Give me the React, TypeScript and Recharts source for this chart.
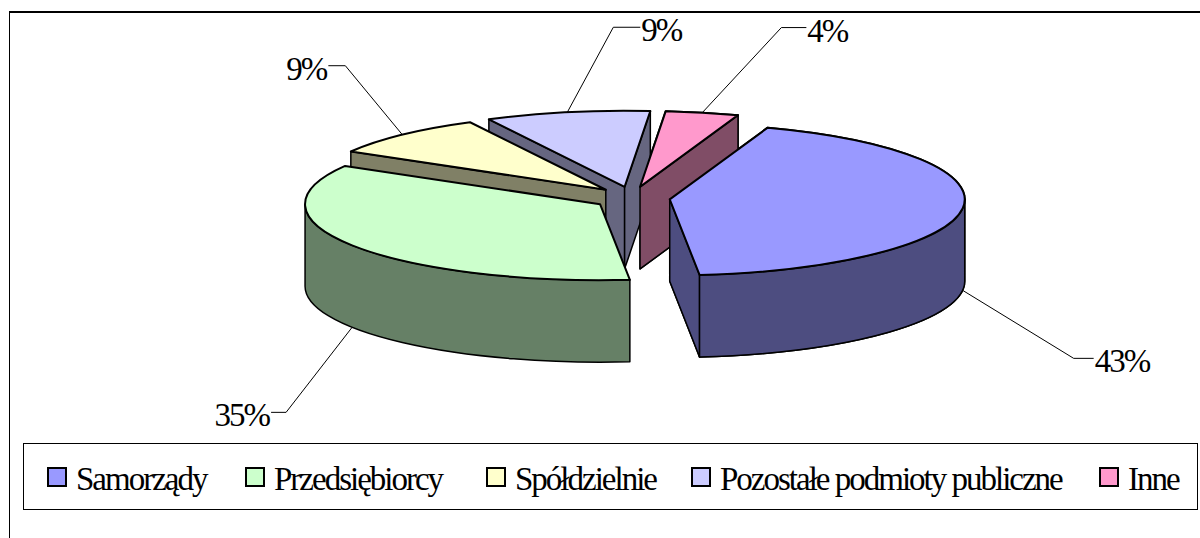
import React from 'react';
import { PieChart, Pie, Legend } from 'recharts';

const categories = ['Samorządy', 'Przedsiębiorcy', 'Spółdzielnie', 'Pozostałe podmioty publiczne', 'Inne'];
const shares = [43, 35, 9, 9, 4];
const colors = ['#9999FF', '#CCFFCC', '#FFFFCC', '#CCCCFF', '#FF99CC'];
const wallColors = ['#4D4D80', '#668066', '#808066', '#666680', '#804D66'];

// leader line bend relative to the rim, then horizontal stub
const leaders = [
  { dx: 111, dy: 68, stub: 20, onWall: true },
  { dx: -66, dy: 85, stub: -15, onWall: true },
  { dx: -57, dy: -69, stub: -17, onWall: false },
  { dx: 46, dy: -85, stub: 27, onWall: false },
  { dx: 79, dy: -85, stub: 25, onWall: false },
];
const legendLefts = [47, 245, 486, 691, 1099];

// back slices first so the painter's order matches the 3D look
const pieData = categories
  .map((name, i) => ({ name, value: shares[i], fill: colors[i], wall: wallColors[i], idx: i }))
  .reverse();

// Inne sits over the Pozostałe wall, Samorządy over Inne: repainted in a second pass
const repainted = [0, 4];

const RX = 295;
const RY = 76;
const DEPTH = 82;
const EXPLODE = 38;
const EXPLODE_TILT = 0.3;
const FONT = '"Liberation Serif", serif';

const rad = (d: number) => (d * Math.PI) / 180;

const apexOf = (cx: number, cy: number, theta: number) => ({
  x: cx + EXPLODE * Math.sin(rad(theta)),
  y: cy - EXPLODE * EXPLODE_TILT * Math.cos(rad(theta)),
});

const rimOf = (a: { x: number; y: number }, theta: number) => ({
  x: a.x + RX * Math.sin(rad(theta)),
  y: a.y - RY * Math.cos(rad(theta)),
});

const Slice3D = (props: any) => {
  const { cx, cy, startAngle, endAngle, payload } = props;
  const lo = Math.min(startAngle, endAngle);
  const hi = Math.max(startAngle, endAngle);
  // clockwise degrees from the top
  const t0 = ((90 - hi) % 360 + 360) % 360;
  const t1 = t0 + (hi - lo);
  const mid = (t0 + t1) / 2;
  const apex = apexOf(cx, cy, mid);
  const p0 = rimOf(apex, t0);
  const p1 = rimOf(apex, t1);
  const fill = payload?.fill ?? props.fill;
  const wall = payload?.wall ?? props.wall;

  const face = (p: { x: number; y: number }) =>
    `M${apex.x},${apex.y} L${p.x},${p.y} L${p.x},${p.y + DEPTH} L${apex.x},${apex.y + DEPTH} Z`;

  const faces: string[] = [];
  if (Math.sin(rad(t0)) < 0) faces.push(face(p0));
  if (Math.sin(rad(t1)) > 0) faces.push(face(p1));

  // outer wall only on the front half of the ellipse
  let rimWall = '';
  const w0 = Math.max(t0, 90);
  const w1 = Math.min(t1, 270);
  if (w1 > w0) {
    const a = rimOf(apex, w0);
    const b = rimOf(apex, w1);
    rimWall =
      `M${a.x},${a.y} A${RX},${RY} 0 0 1 ${b.x},${b.y} L${b.x},${b.y + DEPTH} ` +
      `A${RX},${RY} 0 0 0 ${a.x},${a.y + DEPTH} Z`;
  }

  const large = t1 - t0 > 180 ? 1 : 0;
  const top = `M${apex.x},${apex.y} L${p0.x},${p0.y} A${RX},${RY} 0 ${large} 1 ${p1.x},${p1.y} Z`;

  return (
    <g>
      {faces.map((d, i) => (
        <path key={i} d={d} fill={wall} stroke="#000" strokeWidth={1.5} strokeLinejoin="round" />
      ))}
      {rimWall && <path d={rimWall} fill={wall} stroke="#000" strokeWidth={1.5} strokeLinejoin="round" />}
      <path d={top} fill={fill} stroke="#000" strokeWidth={2} strokeLinejoin="round" />
    </g>
  );
};

const RepaintSlice = (props: any) => {
  const idx = props.payload?.idx ?? props.idx;
  return repainted.includes(idx) ? <Slice3D {...props} /> : <g />;
};

const renderLabel = (props: any) => {
  const { cx, cy, midAngle, payload, value } = props;
  const idx = payload?.idx ?? props.idx;
  const leader = leaders[idx];
  const theta = 90 - midAngle;
  const rim = rimOf(apexOf(cx, cy, theta), theta);
  const y0 = rim.y + (leader.onWall ? DEPTH : 0);
  const bx = rim.x + leader.dx;
  const by = y0 + leader.dy;
  const ex = bx + leader.stub;
  const right = leader.stub > 0;
  return (
    <g>
      <path d={`M${rim.x},${y0} L${bx},${by} L${ex},${by}`} fill="none" stroke="#000" strokeWidth={1} />
      <text
        x={ex + (right ? 1 : -2)}
        y={by + 14}
        textAnchor={right ? 'start' : 'end'}
        fontFamily={FONT}
        fontSize={33}
        letterSpacing={-2}
        fill="#000"
      >
        {`${value}%`}
      </text>
    </g>
  );
};

const LegendBox = () => (
  <div style={{ position: 'relative', width: '100%', height: '100%' }}>
    {categories.map((name, i) => (
      <React.Fragment key={name}>
        <div
          style={{
            position: 'absolute',
            left: legendLefts[i] - 24,
            top: 23,
            width: 16,
            height: 16,
            background: colors[i],
            border: '2px solid #000',
          }}
        />
        <div
          style={{
            position: 'absolute',
            left: legendLefts[i] + 5,
            top: 17,
            fontFamily: FONT,
            fontSize: 33,
            lineHeight: '36px',
            letterSpacing: -2,
            color: '#000',
            whiteSpace: 'nowrap',
          }}
        >
          {name}
        </div>
      </React.Fragment>
    ))}
  </div>
);

export default function App() {
  return (
    <div style={{ position: 'absolute', left: 0, top: 0, width: 1200, height: 538, background: '#fff', overflow: 'hidden' }}>
      <div style={{ position: 'absolute', left: 9, top: 11, width: 1191, height: 527, borderLeft: '1.5px solid #000', borderTop: '2px solid #000', boxSizing: 'border-box' }} />
      <PieChart width={1200} height={538} margin={{ top: 0, right: 0, bottom: 0, left: 0 }}>
        <Pie
          data={pieData}
          dataKey="value"
          nameKey="name"
          cx={632}
          cy={198}
          outerRadius={RX}
          startAngle={70.6}
          endAngle={430.6}
          shape={Slice3D}
          isAnimationActive={false}
        />
        <Pie
          data={pieData}
          dataKey="value"
          nameKey="name"
          cx={632}
          cy={198}
          outerRadius={RX}
          startAngle={70.6}
          endAngle={430.6}
          shape={RepaintSlice}
          label={renderLabel}
          labelLine={false}
          isAnimationActive={false}
        />
        <Legend
          content={LegendBox}
          wrapperStyle={{ position: 'absolute', left: 23, top: 443, bottom: 'auto', width: 1175, height: 67, border: '1.5px solid #000', boxSizing: 'border-box' }}
        />
      </PieChart>
    </div>
  );
}
